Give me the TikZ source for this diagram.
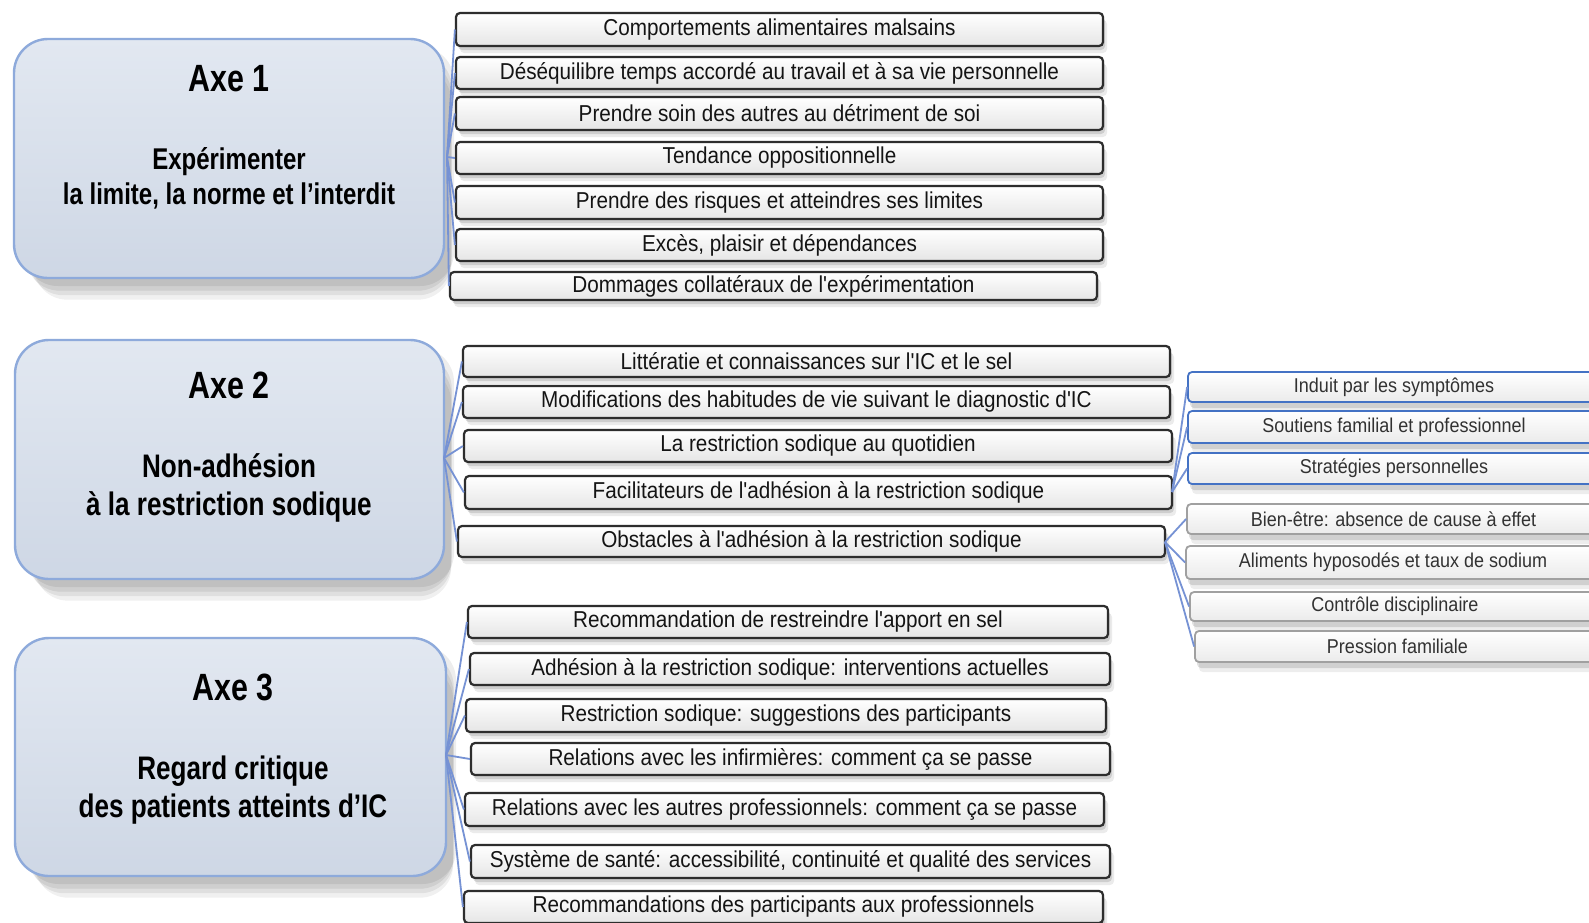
\documentclass[tikz,border=0pt]{standalone}
\usepackage{fontspec}
\setmainfont{Liberation Sans}
\newfontfamily\axefont[FakeStretch=0.8]{Liberation Sans}
\newfontfamily\itemfont[FakeStretch=0.9]{Liberation Sans}
\usetikzlibrary{shadows}
\definecolor{axeborder}{RGB}{142,170,219}
\definecolor{axetop}{RGB}{226,232,241}
\definecolor{axebot}{RGB}{206,215,229}
\definecolor{linkcol}{RGB}{118,146,212}
\definecolor{itemborder}{RGB}{45,45,45}
\definecolor{blueborder}{RGB}{68,114,196}
\definecolor{grayborder}{RGB}{160,160,160}
\definecolor{rtext}{RGB}{50,50,50}
\tikzset{
 softshadow/.style={
   general shadow={shadow xshift=5pt, shadow yshift=-4pt, shadow scale=1.0, opacity=0.07, fill=black},
   general shadow={shadow xshift=5pt, shadow yshift=-7pt, shadow scale=0.99, opacity=0.07, fill=black},
   general shadow={shadow xshift=6pt, shadow yshift=-10pt, shadow scale=0.98, opacity=0.07, fill=black},
   general shadow={shadow xshift=7pt, shadow yshift=-13pt, shadow scale=0.97, opacity=0.06, fill=black}},
 axebox/.style={rounded corners=17pt, draw=axeborder, line width=1.2pt, top color=axetop, bottom color=axebot, softshadow},
 item/.style={rounded corners=2pt, draw=itemborder, line width=1.1pt, top color=white, bottom color=black!10,
   inner sep=0pt, font=\itemfont\fontsize{11.5}{13}\selectfont, text=black!92,
   general shadow={shadow xshift=1pt, shadow yshift=-2pt, opacity=0.12, fill=black},
   general shadow={shadow xshift=2pt, shadow yshift=-3.5pt, opacity=0.08, fill=black}},
 ritem/.style={rounded corners=2pt, line width=0.9pt, top color=white, bottom color=black!8, inner sep=0pt,
   font=\itemfont\fontsize{10}{12}\selectfont, text=rtext,
   general shadow={shadow xshift=1pt, shadow yshift=-3pt, opacity=0.12, fill=black},
   general shadow={shadow xshift=2pt, shadow yshift=-5pt, opacity=0.07, fill=black}},
 rblue/.style={ritem, draw=blueborder},
 rgray/.style={ritem, draw=grayborder},
 linkline/.style={draw=linkcol, line width=0.9pt},
 axetitle/.style={font=\axefont\bfseries\fontsize{19}{22}\selectfont},
 axesub/.style={font=\axefont\bfseries\fontsize{15}{17.5}\selectfont, align=center},
 axesubb/.style={font=\axefont\bfseries\fontsize{16.3}{18.6}\selectfont, align=center},
}
\newcommand\ibox[7]{%
 \pgfmathsetmacro\myboxw{(#5-#3)*0.5}\pgfmathsetmacro\myboxh{(#6-#4)*0.5}%
 \node[#1, minimum width=\myboxw pt, minimum height=\myboxh pt] (#2) at ({(#3+#5)/2},{(#4+#6)/2}) {#7};}
\begin{document}
\begin{tikzpicture}[x=0.5pt,y=-0.5pt]
\clip (0,0) rectangle (1589,922);
\fill[white] (0,0) rectangle (1589,922);
% Axe boxes
\ibox{axebox}{axe1}{14}{39}{444}{278}{}
\ibox{axebox}{axe2}{15}{340}{444}{579}{}
\ibox{axebox}{axe3}{15}{638}{446}{876}{}
\node[axetitle] (t1) at (229,79) {Axe 1};
\node[axesub] (s1) at (229,178) {Expérimenter\\la limite, la norme et l’interdit};
\node[axetitle] (t2) at (229,385) {Axe 2};
\node[axesubb] (s2) at (229,488) {Non-adhésion\\à la restriction sodique};
\node[axetitle] (t3) at (233,687) {Axe 3};
\node[axesubb] (s3) at (233,790) {Regard critique\\des patients atteints d’IC};
% Axe 1 items
\ibox{item}{a1}{456}{13}{1103}{46}{Comportements alimentaires malsains}
\ibox{item}{a2}{456}{57}{1103}{89}{Déséquilibre temps accordé au travail et à sa vie personnelle}
\ibox{item}{a3}{456}{97}{1103}{130}{Prendre soin des autres au détriment de soi}
\ibox{item}{a4}{456}{142}{1103}{174}{Tendance oppositionnelle}
\ibox{item}{a5}{456}{186}{1103}{219}{Prendre des risques et atteindres ses limites}
\ibox{item}{a6}{456}{229}{1103}{261}{Excès, plaisir et dépendances}
\ibox{item}{a7}{450}{272}{1097}{300}{Dommages collatéraux de l'expérimentation}
% Axe 2 items
\ibox{item}{b1}{463}{346}{1170}{377}{Littératie et connaissances sur l'IC et le sel}
\ibox{item}{b2}{463}{386}{1170}{418}{Modifications des habitudes de vie suivant le diagnostic d'IC}
\ibox{item}{b3}{464}{430}{1172}{462}{La restriction sodique au quotidien}
\ibox{item}{b4}{465}{476}{1172}{509}{Facilitateurs de l'adhésion à la restriction sodique}
\ibox{item}{b5}{458}{526}{1165}{557}{Obstacles à l'adhésion à la restriction sodique}
% right items
\ibox{rblue}{f1}{1188}{372}{1600}{402}{Induit par les symptômes}
\ibox{rblue}{f2}{1188}{411}{1600}{443}{Soutiens familial et professionnel}
\ibox{rblue}{f3}{1188}{453}{1600}{484}{Stratégies personnelles}
\ibox{rgray}{o1}{1187}{504}{1600}{534}{Bien-être: absence de cause à effet}
\ibox{rgray}{o2}{1186}{546}{1600}{579}{Aliments hyposodés et taux de sodium}
\ibox{rgray}{o3}{1190}{592}{1600}{621}{Contrôle disciplinaire}
\ibox{rgray}{o4}{1195}{631}{1600}{662}{Pression familiale}
% Axe 3 items
\ibox{item}{c1}{468}{606}{1108}{638}{Recommandation de restreindre l'apport en sel}
\ibox{item}{c2}{470}{653}{1110}{685}{Adhésion à la restriction sodique: interventions actuelles}
\ibox{item}{c3}{466}{699}{1106}{732}{Restriction sodique: suggestions des participants}
\ibox{item}{c4}{471}{743}{1110}{775}{Relations avec les infirmières: comment ça se passe}
\ibox{item}{c5}{465}{793}{1104}{826}{Relations avec les autres professionnels: comment ça se passe}
\ibox{item}{c6}{471}{845}{1110}{878}{Système de santé: accessibilité, continuité et qualité des services}
\ibox{item}{c7}{464}{891}{1103}{923}{Recommandations des participants aux professionnels}
% hubs
\coordinate (h1) at (447,157);
\coordinate (h2) at (444,458);
\coordinate (h3) at (446,755);
\coordinate (hf) at (1172,492);
\coordinate (ho) at (1165,542);
\foreach \n in {a1,a2,a3,a4,a5,a6,a7} \draw[linkline] (h1) -- (\n.west);
\foreach \n in {b1,b2,b3,b4,b5} \draw[linkline] (h2) -- (\n.west);
\foreach \n in {c1,c2,c3,c4,c5,c6,c7} \draw[linkline] (h3) -- (\n.west);
\foreach \n in {f1,f2,f3} \draw[linkline] (hf) -- (\n.west);
\foreach \n in {o1,o2,o3,o4} \draw[linkline] (ho) -- (\n.west);
\end{tikzpicture}
\end{document}
